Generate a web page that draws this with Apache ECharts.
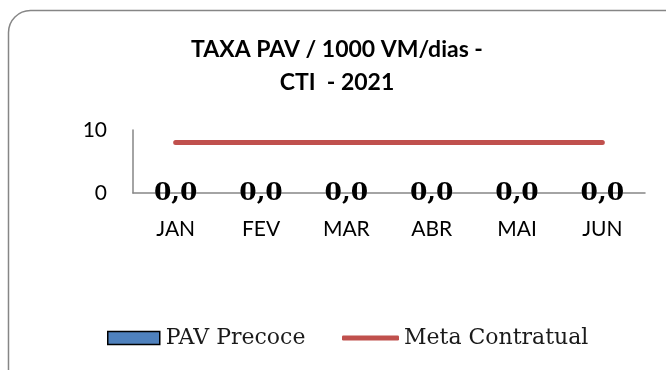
<!DOCTYPE html>
<html>
<head>
<meta charset="utf-8">
<script src="https://cdn.jsdelivr.net/npm/echarts@6/dist/echarts.min.js"></script>
<style>
  html, body { margin: 0; padding: 0; background: #fff; }
  #chart { width: 666px; height: 370px; }
</style>
</head>
<body>
<div id="chart"></div>
<script>
// Monthly categories
const months = ['JAN', 'FEV', 'MAR', 'ABR', 'MAI', 'JUN'];
// PAV Precoce rate per 1000 ventilator-days
const pavPrecoce = [0, 0, 0, 0, 0, 0];
// Contractual target
const metaContratual = [8, 8, 8, 8, 8, 8];
// Y axis ticks
const yTicks = [0, 10];

const chart = echarts.init(document.getElementById('chart'), null, { renderer: 'canvas' });

const sans = 'Lato, "Open Sans", sans-serif';
const serif = '"DejaVu Serif", "Liberation Serif", serif';

chart.setOption({
  animation: false,
  backgroundColor: '#ffffff',
  graphic: [{
    type: 'rect',
    shape: { x: 8.5, y: 10.5, width: 690, height: 400, r: 22 },
    style: { fill: 'none', stroke: '#868686', lineWidth: 1.5 },
    silent: true,
    z: -1
  }],
  title: {
    text: 'TAXA PAV / 1000 VM/dias -\nCTI  - 2021',
    left: 337,
    textAlign: 'center',
    top: 33,
    padding: 0,
    textStyle: {
      fontFamily: sans,
      fontWeight: 'bold',
      fontSize: 23,
      lineHeight: 33,
      color: '#000'
    }
  },
  legend: [{
    data: ['PAV Precoce'],
    left: 107,
    top: 327,
    padding: 0,
    itemWidth: 52,
    itemHeight: 13,
    itemGap: 0,
    icon: 'rect',
    itemStyle: { borderColor: '#000', borderWidth: 1.5 },
    textStyle: { fontFamily: serif, fontSize: 22, color: '#1a1a1a', padding: [0, 0, 0, 1] }
  }, {
    data: ['Meta Contratual'],
    left: 342,
    top: 327,
    padding: 0,
    itemWidth: 57,
    itemHeight: 5,
    itemGap: 0,
    icon: 'roundRect',
    textStyle: { fontFamily: serif, fontSize: 22, color: '#1a1a1a', padding: [0, 0, 0, 0] }
  }],
  grid: { left: 133, right: 21, top: 130, bottom: 177, containLabel: false },
  xAxis: {
    type: 'category',
    data: months,
    axisLine: { show: true, lineStyle: { color: '#868686', width: 1.5 } },
    axisTick: { show: false },
    axisLabel: { fontFamily: sans, fontSize: 21, color: '#000', margin: 26 }
  },
  yAxis: {
    type: 'value',
    min: yTicks[0],
    max: yTicks[yTicks.length - 1],
    interval: 10,
    axisLine: { show: true, lineStyle: { color: '#868686', width: 1.5 } },
    axisTick: { show: false },
    splitLine: { show: false },
    axisLabel: { fontFamily: sans, fontSize: 21, color: '#000', margin: 26 }
  },
  series: [{
    name: 'PAV Precoce',
    type: 'bar',
    data: pavPrecoce,
    barWidth: '55%',
    itemStyle: { color: '#4F81BD', borderColor: '#000', borderWidth: 0 },
    label: {
      show: true,
      position: 'inside',
      formatter: p => p.value.toFixed(1).replace('.', ','),
      fontFamily: serif,
      fontWeight: 'bold',
      fontSize: 25,
      color: '#000'
    },
    z: 3
  }, {
    name: 'Meta Contratual',
    type: 'line',
    data: metaContratual,
    symbol: 'none',
    lineStyle: { color: '#C0504D', width: 5, cap: 'round' },
    itemStyle: { color: '#C0504D' },
    z: 2
  }]
});
</script>
</body>
</html>
